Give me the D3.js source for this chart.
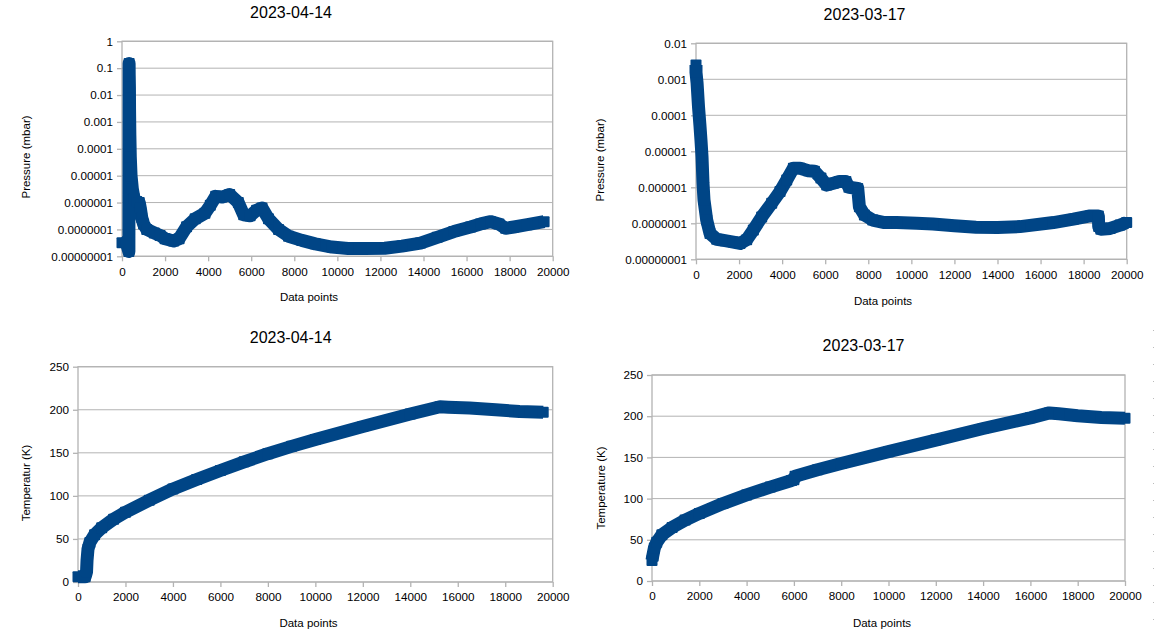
<!DOCTYPE html>
<html>
<head>
<meta charset="utf-8">
<script src="https://cdn.jsdelivr.net/npm/d3@7"></script>
<style>
body { margin: 0; background: #fff; }
text { font-family: "Liberation Sans", Arial, sans-serif; fill: #000; }
</style>
</head>
<body>
<svg id="chart" width="1154" height="634"></svg>
<script>
// values

var xTicks = [0, 2000, 4000, 6000, 8000, 10000, 12000, 14000, 16000, 18000, 20000];

var pressureTicksA = [1, 0.1, 0.01, 0.001, 0.0001, 0.00001, 0.000001, 0.0000001, 0.00000001];
var pressureLabelsA = ["1", "0.1", "0.01", "0.001", "0.0001", "0.00001", "0.000001", "0.0000001", "0.00000001"];

var pressureTicksB = [0.01, 0.001, 0.0001, 0.00001, 0.000001, 0.0000001, 0.00000001];
var pressureLabelsB = ["0.01", "0.001", "0.0001", "0.00001", "0.000001", "0.0000001", "0.00000001"];

var tempTicks = [0, 50, 100, 150, 200, 250];

var titles = ["2023-04-14", "2023-03-17"];

// [data point, pressure mbar]
var pressure0414 = [
    [0, 3.2e-8], [200, 3.2e-8], [320, 1.5e-8], [330, 0.15], [335, 0.055],
    [345, 0.02], [350, 3.2e-3], [365, 3.2e-4], [385, 5.0e-5], [420, 1.0e-5],
    [480, 3.2e-6], [560, 1.4e-6], [680, 1.1e-6], [800, 1.0e-6], [850, 6.3e-7],
    [915, 2.8e-7], [1000, 1.6e-7], [1150, 1.0e-7], [1500, 7.4e-8], [1770, 6.0e-8],
    [2000, 4.5e-8], [2400, 3.7e-8], [2650, 4.5e-8], [3000, 1.26e-7], [3400, 2.5e-7],
    [3850, 4.0e-7], [4100, 7.9e-7], [4350, 1.7e-6], [4650, 1.6e-6], [5000, 2.0e-6],
    [5400, 1.0e-6], [5650, 3.5e-7], [5950, 3.2e-7], [6250, 5.2e-7], [6500, 6.3e-7],
    [6800, 2.5e-7], [7270, 1.0e-7], [7735, 5.6e-8], [8350, 3.9e-8], [8975, 2.9e-8],
    [9750, 2.2e-8], [10500, 1.95e-8], [11300, 1.95e-8], [12200, 2.0e-8], [13000, 2.4e-8],
    [13860, 3.1e-8], [14636, 5.1e-8], [15410, 8.3e-8], [16186, 1.23e-7], [16651, 1.6e-7],
    [17116, 1.95e-7], [17504, 1.6e-7], [17814, 1.1e-7], [18200, 1.23e-7], [18822, 1.5e-7],
    [19600, 1.95e-7]
];

var pressure0317 = [
    [0, 2.5e-3], [0, 1.55e-3], [50, 7.8e-4], [116, 1.74e-4], [186, 5.0e-5],
    [232, 2.0e-5], [279, 7.1e-6], [325, 1.3e-6], [371, 4.5e-7], [497, 1.23e-7],
    [650, 5.2e-8], [960, 3.6e-8], [1347, 3.3e-8], [1734, 3.0e-8], [2044, 2.75e-8],
    [2353, 3.5e-8], [2663, 6.5e-8], [3050, 1.5e-7], [3515, 3.6e-7], [3902, 7.6e-7],
    [4212, 1.6e-6], [4522, 3.4e-6], [4831, 3.4e-6], [5218, 2.9e-6], [5500, 2.8e-6],
    [5800, 1.8e-6], [6070, 1.15e-6], [6380, 1.3e-6], [6650, 1.45e-6], [6960, 1.45e-6],
    [7100, 1.0e-6], [7510, 9.3e-7], [7587, 2.9e-7], [7820, 1.7e-7], [8207, 1.23e-7],
    [8750, 1.05e-7], [9320, 1.05e-7], [10250, 1.0e-7], [11000, 9.5e-8], [12000, 8.5e-8],
    [13000, 7.8e-8], [14000, 7.6e-8], [15048, 8.1e-8], [16596, 1.05e-7], [17525, 1.3e-7],
    [18300, 1.6e-7], [18685, 1.6e-7], [18700, 8.1e-8], [18800, 6.8e-8], [19230, 7.2e-8],
    [19695, 8.9e-8], [20000, 1.05e-7]
];

// [data point, temperature K]
var temp0414 = [
    [0, 6], [300, 6], [360, 12], [380, 25], [420, 38], [500, 46], [700, 55],
    [1000, 63], [1500, 73], [2000, 81], [3000, 95], [4000, 108], [5000, 119],
    [6000, 129.5], [7000, 139.5], [8000, 149], [9000, 157.5], [10000, 165.5],
    [12000, 180.5], [14000, 195], [15250, 203.5], [15600, 203], [16500, 202],
    [17600, 200], [18600, 198], [19600, 197]
];

var temp0317 = [
    [0, 25], [30, 30], [100, 40], [200, 47], [420, 56], [850, 65], [1400, 74],
    [2000, 82], [3000, 94], [4000, 104.5], [5000, 114], [5900, 122], [6000, 123],
    [6050, 127], [7000, 135], [8000, 142.5], [10000, 157], [12000, 171], [14000, 185],
    [16000, 198], [16800, 204], [17200, 203], [18000, 200.5], [19000, 198.5], [20000, 197.5]
];

var svg = d3.select("#chart");
var seriesColor = "#004586";
var gridColor = "#b3b3b3";
var lineWidth = 13;
var markSize = 11;

function drawChart(cfg) {
    var g = svg.append("g");

    var x = d3.scaleLinear()
        .domain([0, 20000])
        .range([cfg.left, cfg.right]);

    var y = cfg.log
        ? d3.scaleLog().domain([cfg.yTicks[cfg.yTicks.length - 1], cfg.yTicks[0]]).range([cfg.bottom, cfg.top])
        : d3.scaleLinear().domain([0, 250]).range([cfg.bottom, cfg.top]);

    // horizontal gridlines
    g.selectAll(".grid")
        .data(cfg.yTicks)
        .enter()
        .append("line")
        .attr("x1", cfg.left)
        .attr("x2", cfg.right)
        .attr("y1", d => y(d))
        .attr("y2", d => y(d))
        .attr("stroke", gridColor)
        .attr("stroke-width", 1);

    // plot frame
    g.append("rect")
        .attr("x", cfg.left)
        .attr("y", cfg.top)
        .attr("width", cfg.right - cfg.left)
        .attr("height", cfg.bottom - cfg.top)
        .attr("fill", "none")
        .attr("stroke", gridColor)
        .attr("stroke-width", 1.3);

    var bottomAxis = d3.axisBottom(x)
        .tickValues(xTicks)
        .tickSize(5)
        .tickPadding(6)
        .tickFormat(d3.format("d"));

    var leftAxis = d3.axisLeft(y)
        .tickValues(cfg.yTicks)
        .tickSize(5)
        .tickPadding(4)
        .tickFormat((d, i) => cfg.yLabels ? cfg.yLabels[i] : d);

    var xAxis = g.append("g")
        .attr("transform", `translate(0, ${cfg.bottom})`)
        .call(bottomAxis);

    var yAxis = g.append("g")
        .attr("transform", `translate(${cfg.left}, 0)`)
        .call(leftAxis);

    [xAxis, yAxis].forEach(function (a) {
        a.select(".domain").remove();
        a.selectAll(".tick line").attr("stroke", gridColor).attr("stroke-width", 1.3);
        a.selectAll(".tick text")
            .attr("fill", "#000")
            .style("font-size", "11.7px")
            .style("font-family", '"Liberation Sans", Arial, sans-serif');
    });

    // series: thick line plus square markers
    var line = d3.line()
        .x(d => x(d[0]))
        .y(d => y(d[1]));

    g.append("path")
        .datum(cfg.data)
        .attr("d", line)
        .attr("fill", "none")
        .attr("stroke", seriesColor)
        .attr("stroke-width", lineWidth)
        .attr("stroke-linejoin", "round");

    g.selectAll(".mark")
        .data(cfg.data)
        .enter()
        .append("rect")
        .attr("x", d => x(d[0]) - markSize / 2)
        .attr("y", d => y(d[1]) - markSize / 2)
        .attr("width", markSize)
        .attr("height", markSize)
        .attr("rx", 1)
        .attr("fill", seriesColor);

    // titles
    g.append("text")
        .attr("x", cfg.titleX)
        .attr("y", cfg.titleY)
        .attr("text-anchor", "middle")
        .style("font-size", "16px")
        .text(cfg.title);

    g.append("text")
        .attr("x", cfg.xTitleX)
        .attr("y", cfg.xTitleY)
        .attr("dy", "0.35em")
        .attr("text-anchor", "middle")
        .style("font-size", "11.5px")
        .text("Data points");

    g.append("text")
        .attr("transform", `translate(${cfg.yTitleX}, ${cfg.yTitleY}) rotate(-90)`)
        .attr("dy", "0.35em")
        .attr("text-anchor", "middle")
        .style("font-size", "11.5px")
        .text(cfg.yTitle);
}

drawChart({
    left: 122, right: 552.7, top: 41.3, bottom: 256.3,
    log: true, yTicks: pressureTicksA, yLabels: pressureLabelsA,
    data: pressure0414, title: titles[0],
    titleX: 291, titleY: 17.5, xTitleX: 309, xTitleY: 297,
    yTitleX: 26, yTitleY: 157, yTitle: "Pressure (mbar)"
});

drawChart({
    left: 696, right: 1126.7, top: 43.3, bottom: 259.3,
    log: true, yTicks: pressureTicksB, yLabels: pressureLabelsB,
    data: pressure0317, title: titles[1],
    titleX: 864.5, titleY: 20, xTitleX: 883, xTitleY: 300.5,
    yTitleX: 600, yTitleY: 160, yTitle: "Pressure (mbar)"
});

drawChart({
    left: 78, right: 552.7, top: 366.7, bottom: 582,
    log: false, yTicks: tempTicks,
    data: temp0414, title: titles[0],
    titleX: 290.7, titleY: 343.3, xTitleX: 308.5, xTitleY: 623,
    yTitleX: 26, yTitleY: 483, yTitle: "Temperatur (K)"
});

drawChart({
    left: 652, right: 1125, top: 375, bottom: 581,
    log: false, yTicks: tempTicks,
    data: temp0317, title: titles[1],
    titleX: 863.5, titleY: 351, xTitleX: 882, xTitleY: 622.5,
    yTitleX: 601, yTitleY: 488, yTitle: "Temperature (K)"
});

// faint dotted page edge on the right
svg.append("line")
    .attr("x1", 1153.5).attr("x2", 1153.5)
    .attr("y1", 330).attr("y2", 630)
    .attr("stroke", "#bbb")
    .attr("stroke-width", 1)
    .attr("stroke-dasharray", "1,16");
</script>
</body>
</html>
